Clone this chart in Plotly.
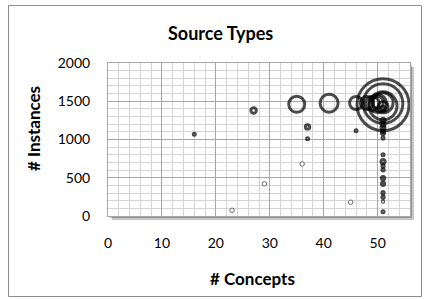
import numpy as np
import plotly.graph_objects as go

# ---- data ----
concepts = [51, 51, 51, 51, 51, 51, 46, 48, 49, 50, 50,
            35, 41, 27, 16, 37, 37, 46,
            51, 51, 51, 51, 51, 51, 51, 51, 51, 51, 51, 51, 51, 51, 51, 51,
            23, 29, 36, 45]
instances = [1455, 1470, 1440, 1480, 1430, 1410, 1477, 1477, 1470, 1470, 1485,
             1460, 1475, 1380, 1070, 1165, 1010, 1115,
             1250, 1200, 1150, 1110, 1084, 1018, 800, 712, 655, 603, 494, 420, 305, 245, 187, 56,
             75, 420, 680, 180]
sources = [1000, 580, 290, 150, 37, 6, 62, 62, 72, 120, 50,
           95, 120, 11, 1.5, 7, 1.5, 1.5,
           6, 6, 6, 3, 4.5, 1.5, 1.5, 6, 2, 2, 4, 4, 2, 2, 0.5, 1.5,
           0, 0, 0, 0]

x_ticks = [0, 10, 20, 30, 40, 50]
y_ticks = [0, 500, 1000, 1500, 2000]

W, H = 429, 299
L, R, T, B = 108, 19, 63, 83
PW, PH = W - L - R, H - T - B

def px(xp):
    return (xp - L) / PW

def py(yp):
    return (H - B - yp) / PH

c = np.array(concepts, float)
i = np.array(instances, float)
s = np.array(sources, float)
pos = s > 0
DMAX = 52
diam = DMAX * np.sqrt(s[pos] / s.max())

FONT = "Lato"
fig = go.Figure()
fig.add_trace(go.Scatter(
    x=c[pos], y=i[pos], mode="markers",
    marker=dict(size=diam, sizemode="diameter", color="rgba(0,0,0,0)",
                line=dict(color="black", width=3)),
    showlegend=False, hoverinfo="x+y"))
fig.add_trace(go.Scatter(
    x=c[~pos], y=i[~pos], mode="markers",
    marker=dict(size=4.5, color="rgba(255,255,255,1)",
                line=dict(color="#666666", width=1)),
    showlegend=False, hoverinfo="x+y"))

shapes = [
    # plot-area drop shadow
    dict(type="rect", xref="paper", yref="paper",
         x0=px(L + 4), x1=px(L + PW + 4), y0=py(T + PH + 4), y1=py(T + 4),
         line=dict(width=0), fillcolor="rgba(0,0,0,0.22)", layer="below"),
    dict(type="rect", xref="paper", yref="paper",
         x0=px(L + 2), x1=px(L + PW + 2), y0=py(T + PH + 2), y1=py(T + 2),
         line=dict(width=0), fillcolor="rgba(0,0,0,0.25)", layer="below"),
    dict(type="rect", xref="paper", yref="paper", x0=0, x1=1, y0=0, y1=1,
         line=dict(width=0), fillcolor="white", layer="below"),
    # outer chart frame
    dict(type="rect", xref="paper", yref="paper",
         x0=px(8.5), x1=px(421.5), y0=py(296.5), y1=py(5.5),
         line=dict(color="#8c8c8c", width=1), fillcolor="rgba(0,0,0,0)", layer="above"),
]

annotations = [
    dict(text="<b>Source Types</b>", xref="paper", yref="paper", xanchor="center", yanchor="middle",
         x=px(220), y=py(33), showarrow=False, font=dict(size=18, family=FONT, color="black")),
    dict(text="<b># Instances</b>", xref="paper", yref="paper", textangle=-90,
         xanchor="center", yanchor="middle",
         x=px(33.5), y=py(128.5), showarrow=False, font=dict(size=17, family=FONT, color="black")),
    dict(text="<b># Concepts</b>", xref="paper", yref="paper", xanchor="center", yanchor="middle",
         x=px(252), y=py(278), showarrow=False, font=dict(size=17, family=FONT, color="black")),
]

fig.update_layout(
    width=W, height=H, margin=dict(l=L, r=R, t=T, b=B),
    paper_bgcolor="white", plot_bgcolor="white",
    font=dict(family=FONT, size=14, color="black"),
    shapes=shapes, annotations=annotations,
    xaxis=dict(range=[0, 56], tickvals=x_ticks, showgrid=True, gridcolor="#a6a6a6", gridwidth=1,
               minor=dict(dtick=2, tick0=0, showgrid=True, gridcolor="#d4d4d4", gridwidth=1),
               showline=True, linecolor="#a6a6a6", mirror=True, zeroline=False,
               ticks="", ticklabelstandoff=14, fixedrange=True),
    yaxis=dict(range=[0, 2000], tickvals=y_ticks, showgrid=True, gridcolor="#a6a6a6", gridwidth=1,
               minor=dict(dtick=100, tick0=0, showgrid=True, gridcolor="#d4d4d4", gridwidth=1),
               showline=True, linecolor="#a6a6a6", mirror=True, zeroline=False,
               ticks="", ticklabelstandoff=14, fixedrange=True),
)

fig.write_html("out.html", config={"displayModeBar": False},
               post_script="document.body.style.margin='0';document.body.style.overflow='hidden';")
